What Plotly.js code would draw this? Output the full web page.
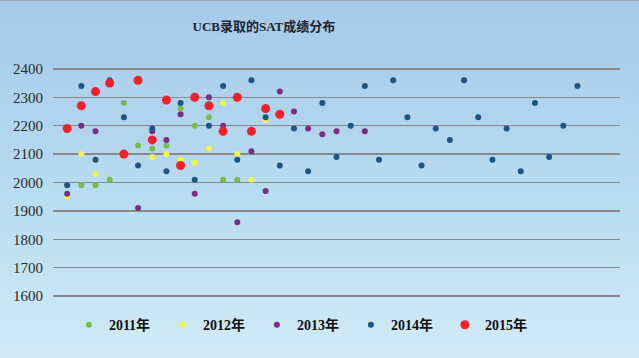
<!DOCTYPE html>
<html>
<head>
<meta charset="utf-8">
<script src="https://cdn.plot.ly/plotly-3.0.1.min.js"></script>
<style>
  html, body { margin: 0; padding: 0; }
  #wrap {
    width: 639px; height: 358px; box-sizing: border-box;
    border-top: 1px solid #9aa4ad;
    background: linear-gradient(to bottom, #a6c9e9 0%, #b9dcf1 55%, #d0ebf5 100%);
  }
  #chart { width: 639px; height: 357px; }
</style>
</head>
<body>
<div id="wrap"><div id="chart"></div></div>
<script>
// Series values by column position (1..37); null = no point in that column
var seriesNames = ['2011年', '2012年', '2013年', '2014年', '2015年'];

var y2011 = [null, 1990, 1990, 2010, 2280, 2130, 2120, 2130, 2260, 2200, 2230, 2010, 2010];

var y2012 = [1950, 2100, 2030, null, null, null, 2090, 2100, 2080, 2070, 2120, 2280, 2100, 2010, 2220];

var y2013 = [1960, 2200, 2180, null, null, 1910, 2180, 2150, 2240, 1960, 2300, 2200, 1860, 2110, 1970,
             2320, 2250, 2190, 2170, 2180, null, 2180];

var y2014 = [1990, 2340, 2080, 2360, 2230, 2060, 2190, 2040, 2280, 2010, 2200, 2340, 2080, 2360, 2230,
             2060, 2190, 2040, 2280, 2090, 2200, 2340, 2080, 2360, 2230, 2060, 2190, 2150, 2360, 2230,
             2080, 2190, 2040, 2280, 2090, 2200, 2340];

var y2015 = [2190, 2270, 2320, 2350, 2100, 2360, 2150, 2290, 2060, 2300, 2270, 2180, 2300, 2180, 2260, 2240];

var yTickVals = [1600, 1700, 1800, 1900, 2000, 2100, 2200, 2300, 2400];

var seriesValues = [y2011, y2012, y2013, y2014, y2015];
var colors = ['#7bbb4a', '#f3f34a', '#7a2e82', '#1f5580', '#f2202a'];
var sizes = [6, 6, 6, 6, 9];

function positions(arr) { return arr.map(function (v, i) { return i + 1; }); }

var traces = seriesValues.map(function (vals, k) {
  return {
    type: 'scatter',
    mode: 'markers',
    name: seriesNames[k],
    x: positions(vals),
    y: vals,
    marker: { color: colors[k], size: sizes[k], line: { width: 0 } }
  };
});

var serifFont = 'Liberation Serif, Times New Roman, Noto Sans CJK SC, serif';

var layout = {
  width: 639,
  height: 357,
  margin: { l: 53, r: 19, t: 65, b: 59 },
  paper_bgcolor: 'rgba(0,0,0,0)',
  plot_bgcolor: 'rgba(0,0,0,0)',
  title: {
    text: '<b>UCB录取的SAT成绩分布</b>',
    font: { family: serifFont, size: 13, color: '#1c2430' },
    xref: 'container', x: 0.413, xanchor: 'center',
    yref: 'container', y: 0.928, yanchor: 'middle'
  },
  xaxis: {
    range: [0, 40],
    visible: false,
    showgrid: false,
    zeroline: false
  },
  yaxis: {
    range: [1590, 2410],
    tickvals: yTickVals,
    ticktext: yTickVals.map(String),
    showgrid: true,
    gridcolor: '#868a8e',
    gridwidth: 1.5,
    zeroline: false,
    showline: false,
    ticks: '',
    ticklabelstandoff: 9,
    tickfont: { family: serifFont, size: 15, color: '#2a2a2a' }
  },
  showlegend: true,
  legend: {
    orientation: 'h',
    x: 0.028,
    xanchor: 'left',
    y: -0.112,
    yanchor: 'middle',
    entrywidthmode: 'pixels',
    entrywidth: 49,
    itemsizing: 'trace',
    bgcolor: 'rgba(0,0,0,0)',
    font: { family: serifFont, size: 14, color: '#111111', weight: 'bold' }
  }
};

Plotly.newPlot('chart', traces, layout, { staticPlot: true, displayModeBar: false });
</script>
</body>
</html>
